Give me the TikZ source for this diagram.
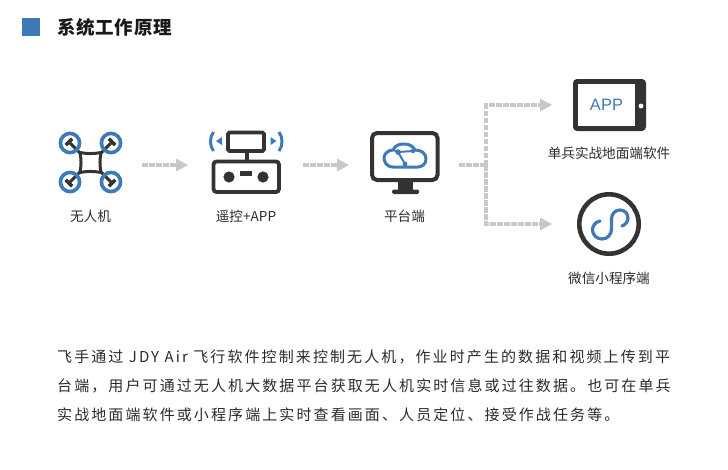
\documentclass[tikz,border=0pt]{standalone}
\usepackage{fontspec}
\setmainfont{Noto Sans CJK SC}
\newfontfamily\bodyfont[LetterSpace=14]{Noto Sans CJK SC}
\newfontfamily\titlefont[LetterSpace=4]{Noto Sans CJK SC}
\newfontfamily\appfont{Liberation Sans}
\usetikzlibrary{arrows.meta}
\definecolor{iconblue}{HTML}{3F7AB8}
\definecolor{icondark}{HTML}{333333}
\definecolor{flowgray}{HTML}{C8C8C8}
\definecolor{textdark}{HTML}{2B2B2B}
\tikzset{
  iconbox/.style={minimum width=#1,minimum height=50pt,inner sep=0pt,outer sep=0pt},
  caption/.style={font=\fontsize{13.6}{15}\selectfont,text=textdark,inner sep=0pt},
  bodyline/.style={anchor=west,font=\bodyfont\fontsize{15}{18}\selectfont,text=textdark,inner sep=0pt},
  flow/.style={draw=flowgray,line width=4pt,dash pattern=on 5.5pt off 1.5pt},
  flowtip/.style={flow,-{Triangle[length=12pt,width=13pt,color=flowgray,fill=flowgray,line width=0pt]}},
  darkline/.style={draw=icondark,line width=3.8pt},
  blueline/.style={draw=iconblue,line width=3pt},
}
\begin{document}
\begin{tikzpicture}[x=1pt,y=-1pt]
\useasboundingbox (0,0) rectangle (728,469);
% header
\fill[iconblue] (22,18) rectangle (40,36);
\node[anchor=west,inner sep=0pt,text=black!90,font=\titlefont\bfseries\fontsize{18.5}{20}\selectfont] (title) at (57,27) {系统工作原理};
% icon anchors
\node[iconbox=65pt] (drone) at (90.5,165) {};
\node[iconbox=79pt] (remote) at (246.5,165) {};
\node[iconbox=69pt] (platform) at (404.5,165) {};
\node[iconbox=73pt] (tablet) at (609.5,105) {};
\node[iconbox=64pt] (mini) at (609,224) {};
\coordinate (junction) at (486,165);
% drone
\foreach \cx/\cy/\ang in {70/143/-45,111/143/-135,70/182/45,111/182/135}{
  \begin{scope}[shift={(\cx,\cy)},rotate=\ang,y=1pt]
    \draw[icondark,line width=3pt] (0,0) -- (15,0);
    \draw[icondark,line width=3.5pt] (-1.5,-4.5) -- (-1.5,4.5);
    \draw[iconblue,line width=3.6pt,fill=none] (0,0) circle (9.6pt);
  \end{scope}
}
\draw[darkline,line width=3pt,line join=round] (80,152.5) to[bend right=10] (101,152.5) to[bend right=10] (101,172.5) to[bend right=10] (80,172.5) to[bend right=10] cycle;
% remote
\draw[darkline,rounded corners=1.5pt] (228,132.5) rectangle (264,151);
\draw[darkline,line width=4pt] (247,151) -- (247,161);
\draw[darkline,rounded corners=3pt] (213.5,161.5) rectangle (279,192);
\fill[icondark] (229,177) circle (5.6pt) (263,177) circle (5.6pt);
\fill[icondark] (240,171) rectangle (252,176);
\fill[iconblue] (216,141) -- (222,137) -- (222,145) -- cycle;
\fill[iconblue] (276.5,141) -- (270.5,137) -- (270.5,145) -- cycle;
\draw[blueline] (213.5,132) .. controls (209.5,137) and (209.5,146) .. (213.5,151);
\draw[blueline] (279,132) .. controls (283,137) and (283,146) .. (279,151);
% monitor
\draw[darkline,line width=4pt,rounded corners=5pt] (372,133) rectangle (437.5,180);
\fill[icondark] (398,181) rectangle (413,191);
\fill[icondark,rounded corners=1.5pt] (392,189.5) rectangle (419,194);
\draw[iconblue,line width=3pt,line join=round] (393,167) .. controls (386,167) and (384,161) .. (384,158) .. controls (384,153) and (389,150) .. (393,150) .. controls (395,145) and (400,144) .. (404,144) .. controls (409,144) and (413,146) .. (415,150) .. controls (421,150) and (426,153) .. (426,159) .. controls (426,164) and (422,167) .. (418,167) -- cycle;
\draw[iconblue,line width=2pt] (393,150) -- (396,151) (415,150) -- (412,152);
\draw[iconblue,line width=2pt] (413,151) -- (398,152) -- (405,164);
\fill[iconblue] (398,152) circle (2.8pt) (413,151) circle (2.2pt) (405,164) circle (2.4pt);
% tablet
\fill[icondark,rounded corners=4pt] (573,79) rectangle (646,131);
\fill[white] (578,84) rectangle (635,126);
\fill[white] (641,106) circle (2.4pt);
\node[inner sep=0pt,text=iconblue,font=\appfont\fontsize{16.5}{19}\selectfont] (apptext) at (606.5,105) {APP};
% mini program
\draw[icondark,line width=4.6pt] (mini.center) circle (29.7pt);
\draw[blueline,line width=3.2pt,line cap=round] (600,221) .. controls (595,222) and (592.5,226) .. (592.5,230) .. controls (592.5,235) and (597,239) .. (602,239) .. controls (608,239) and (611.5,234) .. (611.5,229) -- (611.5,219) .. controls (611.5,214) and (615,210) .. (620,210) .. controls (625,210) and (628,214) .. (628,218) .. controls (628,222) and (625,225) .. (622,226);
% connectors
\draw[flowtip,shorten <=19pt,shorten >=19pt] (drone) -- (remote);
\draw[flowtip,shorten <=17pt,shorten >=21pt] (remote) -- (platform);
\draw[flow,shorten <=20pt] (platform.east) -- (junction);
\draw[flowtip,shorten >=21pt] (junction) |- (tablet.west);
\draw[flowtip,shorten >=25pt] (junction) |- (mini.west);
% captions
\node[caption] (l1) at (90.5,216) {无人机};
\node[caption] (l2) at (246,216) {遥控+APP};
\node[caption] (l3) at (404.5,216) {平台端};
\node[caption] (l4) at (609,153) {单兵实战地面端软件};
\node[caption] (l5) at (609,278) {微信小程序端};
% body
\node[bodyline] (b1) at (57,357) {飞手通过 JDY Air 飞行软件控制来控制无人机，作业时产生的数据和视频上传到平};
\node[bodyline] (b2) at (57,386) {台端，用户可通过无人机大数据平台获取无人机实时信息或过往数据。也可在单兵};
\node[bodyline] (b3) at (57,415) {实战地面端软件或小程序端上实时查看画面、人员定位、接受作战任务等。};
\end{tikzpicture}
\end{document}
